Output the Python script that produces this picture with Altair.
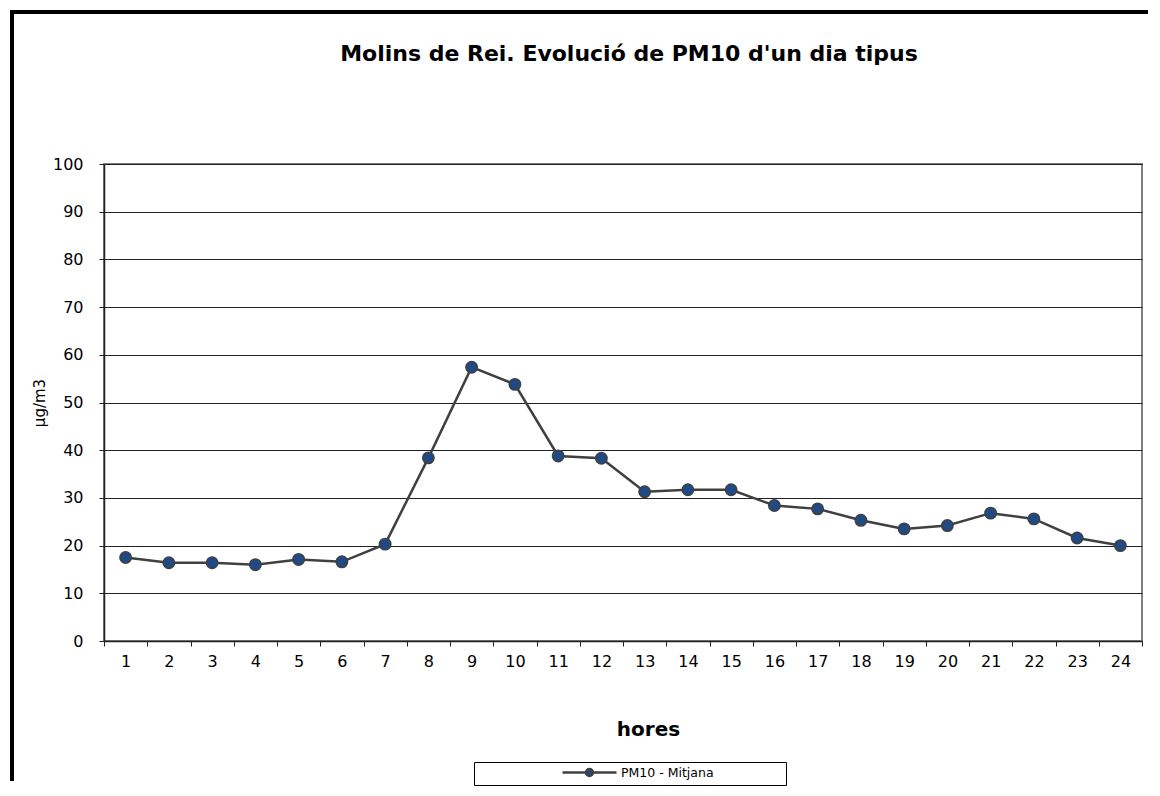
import altair as alt
import pandas as pd

hours = list(range(1, 25))
pm10 = [17.5, 16.4, 16.4, 16.0, 17.1, 16.6, 20.3, 38.4, 57.4, 53.8, 38.8, 38.3,
        31.3, 31.7, 31.7, 28.4, 27.7, 25.3, 23.5, 24.2, 26.8, 25.6, 21.6, 20.0]
series_name = "PM10 -  Mitjana"
y_ticks = [0, 10, 20, 30, 40, 50, 60, 70, 80, 90, 100]

df = pd.DataFrame({"hora": hours, "valor": pm10, "serie": [series_name] * len(hours)})
frame_df = pd.DataFrame({"k": [0]})

FONT = "DejaVu Sans"
LINE = "#404040"
DOT = "#1F4A86"

x_enc = alt.X("hora:O", title="hores",
              scale=alt.Scale(type="band", paddingInner=0, paddingOuter=0),
              bandPosition=0.5,
              axis=alt.Axis(labelAngle=0, tickBand="extent", tickSize=5,
                            labelPadding=7,
                            titleX=544, titleY=94, titleBaseline="alphabetic",
                            titleAlign="center", titleAnchor=None,
                            labelFontSize=16, titleFontSize=20, titleFontWeight="bold",
                            domainColor="#222222", domainWidth=1.5,
                            tickColor="#222222", tickWidth=1, grid=False))
y_enc = alt.Y("valor:Q", title="µg/m3",
              scale=alt.Scale(domain=[0, 100], nice=False),
              axis=alt.Axis(values=y_ticks, tickSize=5, labelPadding=16, titlePadding=5,
                            labelFontSize=16, titleFontSize=15, titleFontWeight="normal",
                            domainColor="#222222", domainWidth=1.5,
                            tickColor="#222222", gridColor="#222222", gridWidth=1))

line = alt.Chart(df).mark_line(color=LINE, strokeWidth=2.5).encode(x=x_enc, y=y_enc)

legend_symbol = ("M-5.4,0L-0.7,0M0.7,0L5.4,0"
                 "M-0.7,0A0.7,0.7 0 1,1 0.7,0A0.7,0.7 0 1,1 -0.7,0Z")
pad_label = "datum.label + '" + "\u2800" * 7 + "'"

points = alt.Chart(df).mark_point(filled=True, size=130, opacity=1,
                                  stroke=LINE, strokeWidth=1.5).encode(
    x=x_enc, y=y_enc,
    color=alt.Color("serie:N", scale=alt.Scale(range=[DOT]),
                    legend=alt.Legend(orient="none", legendX=370, legendY=598,
                                      title=None, strokeColor="black", padding=4,
                                      symbolType=legend_symbol, symbolSize=100,
                                      symbolStrokeColor=LINE, symbolStrokeWidth=2.5,
                                      symbolOffset=105, labelOffset=25,
                                      labelFontSize=12.5, labelFont=FONT,
                                      labelLimit=400, labelExpr=pad_label)))

frame_v = alt.Chart(frame_df).mark_rule(color="black", strokeWidth=4).encode(
    x=alt.value(-92), y=alt.value(-152), y2=alt.value(617))
frame_h = alt.Chart(frame_df).mark_rule(color="black", strokeWidth=4).encode(
    x=alt.value(-94), x2=alt.value(1044), y=alt.value(-152))

chart = alt.layer(frame_v, frame_h, line, points).properties(
    width=1038, height=477,
    padding={"left": 0, "top": 2, "right": 0, "bottom": 0},
    background="white",
    title=alt.TitleParams("Molins de Rei. Evolució de PM10  d'un dia tipus",
                          anchor="middle", frame="group", dx=6, dy=56, offset=0,
                          fontSize=22, fontWeight="bold", font=FONT, color="black"),
).configure_axis(labelFont=FONT, titleFont=FONT, labelColor="black", titleColor="black"
).configure_view(stroke="#808080", strokeWidth=2)

chart.save("out.html", embed_options={"renderer": "svg", "actions": False})
